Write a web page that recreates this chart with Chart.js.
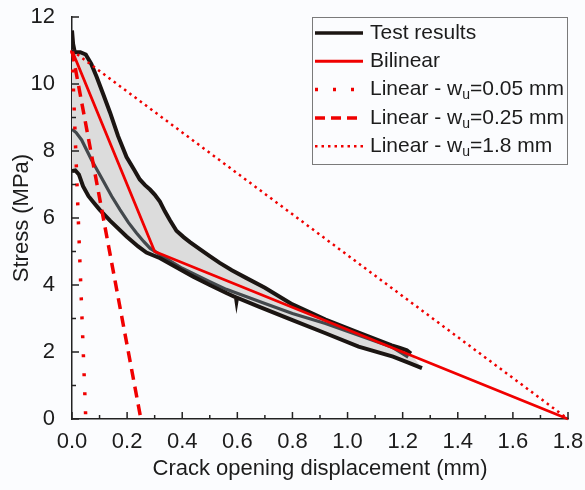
<!DOCTYPE html>
<html>
<head>
<meta charset="utf-8">
<script src="https://cdn.jsdelivr.net/npm/chart.js@4"></script>
<style>
    html, body { margin: 0; padding: 0; background: #fbfcfe; }
    #wrap { width: 585px; height: 490px; }
</style>
</head>
<body>
<div id="wrap"><canvas id="chart" width="585" height="490"></canvas></div>
<script>
// ─── Data ────────────────────────────────────────────────────────────────────

// upper envelope of the test curves (black)
const upperX = [0, 0.004, 0.01, 0.02, 0.03, 0.05, 0.07, 0.09, 0.113, 0.138, 0.167, 0.198, 0.225, 0.246, 0.265, 0.283, 0.30, 0.319, 0.337, 0.355, 0.379, 0.405, 0.428, 0.465, 0.50, 0.536, 0.58, 0.63, 0.70, 0.80, 0.92, 1.04, 1.16, 1.19, 1.215, 1.23];
const upperY = [11.6, 11.2, 10.95, 10.95, 10.95, 10.88, 10.6, 10.2, 9.7, 9.15, 8.45, 7.82, 7.45, 7.15, 6.98, 6.85, 6.7, 6.49, 6.2, 5.94, 5.62, 5.43, 5.28, 5.06, 4.86, 4.66, 4.44, 4.22, 3.92, 3.42, 2.97, 2.58, 2.2, 2.12, 2.05, 1.95];

// lower envelope of the test curves (black)
const lowerX = [0, 0.012, 0.025, 0.04, 0.06, 0.08, 0.10, 0.138, 0.198, 0.24, 0.27, 0.32, 0.38, 0.44, 0.50, 0.56, 0.595, 0.597, 0.599, 0.68, 0.80, 0.92, 1.04, 1.165, 1.225, 1.27];
const lowerY = [7.4, 7.42, 7.3, 6.95, 6.65, 6.45, 6.25, 5.92, 5.45, 5.15, 4.97, 4.8, 4.52, 4.25, 4.0, 3.76, 3.63, 3.52, 3.62, 3.35, 2.95, 2.56, 2.16, 1.86, 1.67, 1.52];

// middle test curve (dark grey)
const middleX = [0, 0.015, 0.035, 0.071, 0.107, 0.144, 0.174, 0.205, 0.234, 0.26, 0.283, 0.32, 0.40, 0.50, 0.56, 0.70, 0.80, 0.92, 1.04, 1.16, 1.22];
const middleY = [8.65, 8.55, 8.33, 7.73, 7.2, 6.65, 6.25, 5.86, 5.55, 5.3, 5.1, 4.9, 4.5, 4.1, 3.87, 3.45, 3.15, 2.85, 2.5, 2.15, 1.85];

// bilinear softening law
const bilinearX = [0, 0.3, 1.8];
const bilinearY = [11.0, 5.0, 0];

// linear softening laws: peak stress down to zero at w_u
const peakStress = 11.0;
const wuValues   = [0.05, 0.25, 1.8];

// ─── Styles ──────────────────────────────────────────────────────────────────

const TEXT  = '#1c1c1c';
const AXIS  = '#222222';
const RED   = '#f00000';
const FONT  = "'Liberation Sans', Arial, sans-serif";

const linearStyles = [
    { borderDash: [3, 16],  borderWidth: 3.5 },
    { borderDash: [11, 7],  borderWidth: 3.5 },
    { borderDash: [2.5, 4], borderWidth: 2.5 },
];

const toPts = (xs, ys) => xs.map((x, i) => ({ x, y: ys[i] }));

const fillPts = toPts(upperX, upperY).concat(toPts(lowerX, lowerY).reverse());

const datasets = [
    { label: 'Test fill', data: fillPts, borderWidth: 0, backgroundColor: '#dcdcdc', fill: 'shape', order: 9 },
    { label: 'Middle',    data: toPts(middleX, middleY), borderColor: '#43484c', borderWidth: 3.2, order: 8 },
    { label: 'Lower',     data: toPts(lowerX, lowerY),   borderColor: '#1b1512', borderWidth: 4, order: 7 },
    { label: 'Upper',     data: toPts(upperX, upperY),   borderColor: '#1b1512', borderWidth: 4, order: 6 },
    { label: 'Bilinear',  data: toPts(bilinearX, bilinearY), borderColor: RED, borderWidth: 2.8, order: 1, clip: false },
    ...wuValues.map((wu, i) => ({
        label: 'Linear ' + wu,
        data: [{ x: 0, y: peakStress }, { x: wu, y: 0 }],
        borderColor: RED,
        borderDash: linearStyles[i].borderDash,
        borderWidth: linearStyles[i].borderWidth,
        order: 2 + i,
        clip: false,
    })),
];

// ─── Plugins ─────────────────────────────────────────────────────────────────

// tick marks point into the plot, majors longer than minors
const inwardTicks = {
    id: 'inwardTicks',
    afterDraw(chart) {
        const { ctx, scales: { x, y } } = chart;
        ctx.save();
        ctx.strokeStyle = AXIS;
        ctx.lineWidth = 1.5;
        for (let i = 0; i <= 18; i++) {
            const px = x.getPixelForValue(i / 10);
            const len = i % 2 === 0 ? 7 : 4;
            ctx.beginPath(); ctx.moveTo(px, y.bottom); ctx.lineTo(px, y.bottom - len); ctx.stroke();
        }
        for (let i = 0; i <= 12; i++) {
            const py = y.getPixelForValue(i);
            const len = i % 2 === 0 ? 7 : 4;
            ctx.beginPath(); ctx.moveTo(x.left, py); ctx.lineTo(x.left + len, py); ctx.stroke();
        }
        ctx.restore();
    },
};

// legend with subscript u, drawn in a box at the top right
const legendRows = [
    { text: ['Test results'],                      color: '#1b1512', width: 3.5, dash: [] },
    { text: ['Bilinear'],                          color: RED, width: 3, dash: [] },
    { text: ['Linear - w', 'u', '=0.05 mm'],       color: RED, width: 3.5, dash: [3, 15] },
    { text: ['Linear - w', 'u', '=0.25 mm'],       color: RED, width: 3.5, dash: [10, 6] },
    { text: ['Linear - w', 'u', '=1.8 mm'],        color: RED, width: 2.5, dash: [2.5, 4] },
];

const boxLegend = {
    id: 'boxLegend',
    afterDraw(chart) {
        const { ctx, chartArea } = chart;
        const right = chartArea.right, top = chartArea.top;
        const left = 312, bottom = 165;
        ctx.save();
        ctx.fillStyle = '#fbfcfe';
        ctx.fillRect(left, top, right - left, bottom - top);
        ctx.strokeStyle = '#7a7a7a';
        ctx.lineWidth = 1;
        ctx.strokeRect(left + 0.5, top + 0.5, right - left - 1, bottom - top - 1);

        legendRows.forEach((row, i) => {
            const cy = top + 16 + i * 28.3;
            ctx.strokeStyle = row.color;
            ctx.lineWidth = row.width;
            ctx.setLineDash(row.dash);
            ctx.beginPath(); ctx.moveTo(left + 3, cy); ctx.lineTo(left + 51, cy); ctx.stroke();
            ctx.setLineDash([]);

            ctx.fillStyle = TEXT;
            ctx.textBaseline = 'middle';
            let tx = left + 58;
            row.text.forEach((part, j) => {
                const sub = row.text.length === 3 && j === 1;
                ctx.font = (sub ? '14px ' : '21px ') + FONT;
                ctx.fillText(part, tx, sub ? cy + 6 : cy);
                tx += ctx.measureText(part).width;
            });
        });
        ctx.restore();
    },
};

// ─── Chart ───────────────────────────────────────────────────────────────────

new Chart(document.getElementById('chart').getContext('2d'), {
    type: 'line',
    data: { datasets },
    options: {
        responsive: false,
        animation: false,
        layout: { padding: { top: 17, right: 17, left: 0, bottom: 0 } },
        elements: { point: { radius: 0 }, line: { tension: 0, fill: false } },
        plugins: { legend: { display: false }, tooltip: { enabled: false } },
        scales: {
            x: {
                type: 'linear',
                min: 0, max: 1.8,
                afterFit: s => { s.height = 71; s.paddingLeft = 0; s.paddingRight = 0; },
                ticks: { stepSize: 0.2, padding: 2, color: TEXT, font: { size: 22, family: FONT }, callback: v => v.toFixed(1) },
                grid: { display: false },
                border: { color: AXIS, width: 1.5 },
                title: { display: true, text: 'Crack opening displacement (mm)', color: TEXT, font: { size: 22, family: FONT }, padding: { top: 0, bottom: 8 } },
            },
            y: {
                type: 'linear',
                min: 0, max: 12,
                afterFit: s => { s.width = 72; s.paddingTop = 0; s.paddingBottom = 0; },
                ticks: { stepSize: 2, padding: 9, color: TEXT, font: { size: 22, family: FONT } },
                grid: { display: false },
                border: { color: AXIS, width: 1.5 },
                title: { display: true, text: 'Stress (MPa)', color: TEXT, font: { size: 22, family: FONT }, padding: { top: 9, bottom: 0 } },
            },
        },
    },
    plugins: [inwardTicks, boxLegend],
});
</script>
</body>
</html>
